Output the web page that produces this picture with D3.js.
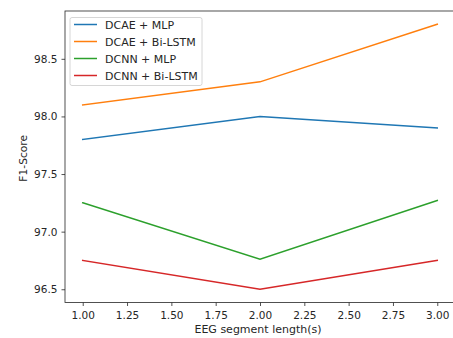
<!DOCTYPE html>
<html><head><meta charset="utf-8">
<script src="https://cdn.jsdelivr.net/npm/d3@7"></script>
<style>body{margin:0;background:#fff}svg{display:block}text{font-family:"DejaVu Sans",sans-serif;fill:#262626}</style>
</head><body>
<script>
const xValues = [1.0, 2.0, 3.0];
const seriesNames = ["DCAE + MLP", "DCAE + Bi-LSTM", "DCNN + MLP", "DCNN + Bi-LSTM"];
const dcaeMlp = [97.8, 98.0, 97.9];
const dcaeBiLstm = [98.1, 98.3, 98.8];
const dcnnMlp = [97.25, 96.76, 97.27];
const dcnnBiLstm = [96.75, 96.5, 96.75];
const xTicks = [1.0, 1.25, 1.5, 1.75, 2.0, 2.25, 2.5, 2.75, 3.0];
const yTicks = [96.5, 97.0, 97.5, 98.0, 98.5];
const colors = ["#1f77b4", "#ff7f0e", "#2ca02c", "#d62728"];
const series = [dcaeMlp, dcaeBiLstm, dcnnMlp, dcnnBiLstm];

(function () {
const W = 453, H = 338;
const pL = 65, pR = 455, pT = 11, pB = 302.5;
const svg = d3.select("body").append("svg").attr("width", W).attr("height", H);
const x = d3.scaleLinear().domain([0.9, 3.1]).range([pL, pR]);
const y = d3.scaleLinear().domain([96.385, 98.915]).range([pB, pT]);

const xAxis = d3.axisBottom(x).tickValues(xTicks).tickFormat(d3.format(".2f")).tickSize(3.5).tickPadding(5.5);
const yAxis = d3.axisLeft(y).tickValues(yTicks).tickFormat(d3.format(".1f")).tickSize(3.5).tickPadding(4);
const gx = svg.append("g").attr("transform", `translate(0,${pB})`).call(xAxis);
const gy = svg.append("g").attr("transform", `translate(${pL},0)`).call(yAxis);
[gx, gy].forEach(g => {
  g.select(".domain").remove();
  g.selectAll(".tick line").attr("stroke", "#262626").attr("stroke-width", 0.8);
  g.selectAll(".tick text").style("font-size", "10.5px").attr("fill", "#262626");
});

svg.append("rect").attr("x", pL).attr("y", pT).attr("width", pR - pL).attr("height", pB - pT)
  .attr("fill", "none").attr("stroke", "#262626").attr("stroke-width", 0.8);

const line = d3.line().x((d, i) => x(xValues[i])).y(d => y(d));
series.forEach((s, k) => {
  svg.append("path").datum(s).attr("d", line).attr("fill", "none")
    .attr("stroke", colors[k]).attr("stroke-width", 1.5).attr("stroke-linecap", "square");
});

svg.append("text").attr("x", 258).attr("y", 333).attr("text-anchor", "middle")
  .style("font-size", "11px").text("EEG segment length(s)");
svg.append("text").attr("transform", `translate(26.5,158.3) rotate(-90)`)
  .attr("text-anchor", "middle").style("font-size", "10.7px").text("F1-Score");

const lg = svg.append("g");
lg.append("rect").attr("x", 70).attr("y", 17.5).attr("width", 132).attr("height", 68).attr("rx", 2)
  .attr("fill", "#fff").attr("fill-opacity", 0.8).attr("stroke", "#cccccc").attr("stroke-width", 0.8);
seriesNames.forEach((n, k) => {
  const yy = 24.5 + k * 17;
  lg.append("line").attr("x1", 74).attr("x2", 97).attr("y1", yy).attr("y2", yy)
    .attr("stroke", colors[k]).attr("stroke-width", 1.5);
  lg.append("text").attr("x", 105).attr("y", yy + 4).style("font-size", "11px").text(n);
});
})();
</script>
</body></html>
